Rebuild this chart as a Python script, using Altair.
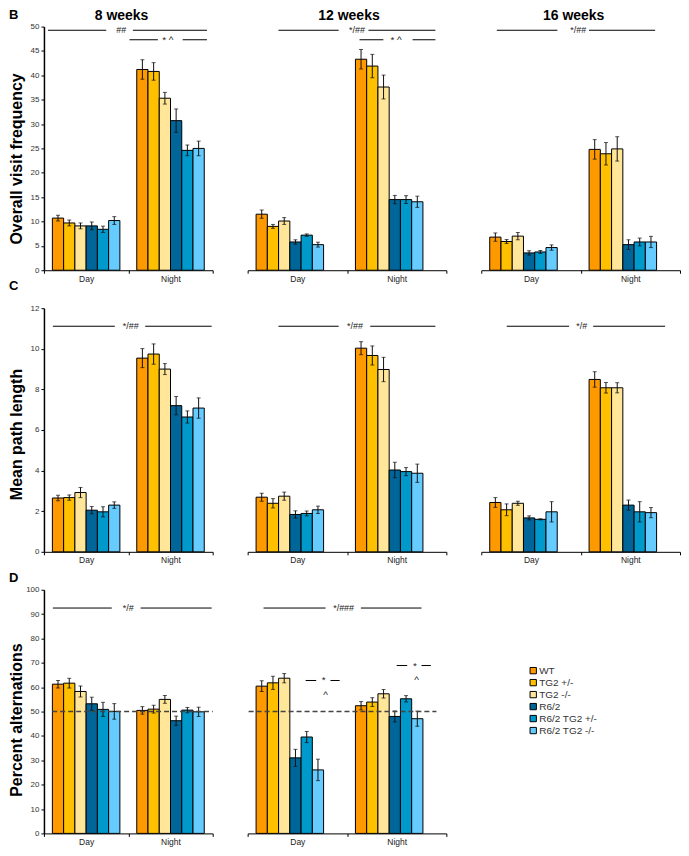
import altair as alt
import pandas as pd

groups = ["WT", "TG2 +/-", "TG2 -/-", "R6/2", "R6/2 TG2 +/-", "R6/2 TG2 -/-"]
colors = ["#FF9900", "#FFC000", "#FFE699", "#006699", "#0099CC", "#66CCFF"]
phases = ["Day", "Night"]
weeks = ["8 weeks", "12 weeks", "16 weeks"]

# Overall visit frequency (mean, SEM)
visit_8_day = [10.7, 9.7, 9.1, 9.1, 8.4, 10.2]
visit_8_day_err = [0.6, 0.6, 0.6, 0.8, 0.65, 0.8]
visit_8_night = [41.2, 40.8, 35.3, 30.7, 24.6, 25.0]
visit_8_night_err = [2.0, 1.8, 1.2, 2.4, 1.1, 1.5]
visit_12_day = [11.5, 9.0, 10.1, 5.8, 7.2, 5.25]
visit_12_day_err = [0.85, 0.4, 0.7, 0.45, 0.25, 0.5]
visit_12_night = [43.3, 41.9, 37.6, 14.5, 14.5, 14.05]
visit_12_night_err = [2.0, 2.4, 2.45, 0.85, 0.8, 1.15]
visit_16_day = [6.8, 5.9, 7.0, 3.55, 3.75, 4.65]
visit_16_day_err = [0.85, 0.4, 0.75, 0.45, 0.3, 0.55]
visit_16_night = [24.8, 23.9, 24.9, 5.25, 5.8, 5.8]
visit_16_night_err = [2.0, 2.3, 2.5, 1.0, 0.8, 1.15]

# Mean path length
path_8_day = [2.65, 2.67, 2.92, 2.05, 1.97, 2.3]
path_8_day_err = [0.13, 0.13, 0.25, 0.18, 0.25, 0.16]
path_8_night = [9.54, 9.74, 9.0, 7.2, 6.64, 7.08]
path_8_night_err = [0.47, 0.5, 0.27, 0.45, 0.3, 0.5]
path_12_day = [2.69, 2.39, 2.74, 1.84, 1.89, 2.07]
path_12_day_err = [0.2, 0.23, 0.2, 0.18, 0.12, 0.18]
path_12_night = [10.03, 9.67, 8.98, 4.03, 3.95, 3.87]
path_12_night_err = [0.32, 0.47, 0.6, 0.38, 0.2, 0.45]
path_16_day = [2.43, 2.07, 2.39, 1.67, 1.6, 1.97]
path_16_day_err = [0.24, 0.29, 0.1, 0.1, 0.03, 0.5]
path_16_night = [8.49, 8.08, 8.08, 2.3, 1.97, 1.93]
path_16_night_err = [0.38, 0.26, 0.25, 0.25, 0.5, 0.25]

# Percent alternations
alt_8_day = [61.25, 61.66, 58.25, 53.2, 50.9, 50.07]
alt_8_day_err = [1.55, 2.0, 2.25, 2.7, 2.9, 3.2]
alt_8_night = [50.48, 51.0, 55.0, 46.25, 50.6, 49.9]
alt_8_night_err = [1.55, 1.6, 1.6, 1.9, 1.1, 1.9]
alt_12_day = [60.44, 61.8, 63.7, 31.0, 39.56, 26.06]
alt_12_day_err = [2.25, 2.7, 1.9, 3.5, 2.3, 4.4]
alt_12_night = [52.4, 53.9, 57.3, 48.0, 55.25, 47.07]
alt_12_night_err = [1.7, 1.8, 1.75, 2.25, 1.3, 3.1]

FONT = "Liberation Sans"
W = [169, 199, 199]
H = 244
one = pd.DataFrame({"k": [0]})

x_axis = alt.Axis(title=None, labelAngle=0, tickBand="extent", tickSize=3,
                  tickColor="black", domainColor="black", domainWidth=1,
                  labelFontSize=8.5, labelColor="#222", labelPadding=1, labelFont=FONT)
x_enc = alt.X("phase:N", sort=phases,
              scale=alt.Scale(domain=phases, paddingInner=0, paddingOuter=0), axis=x_axis)
xo_enc = alt.XOffset("group:N", sort=groups,
                     scale=alt.Scale(domain=groups, paddingInner=0, paddingOuter=0.75))
legend = alt.Legend(orient="none", legendX=485, legendY=640, title=None,
                    symbolType="square", symbolSize=40, symbolStrokeColor="black",
                    symbolStrokeWidth=1, labelFontSize=10, labelFont=FONT,
                    labelColor="#333", rowPadding=0, labelOffset=1, padding=0)
color_enc = alt.Color("group:N", sort=groups,
                      scale=alt.Scale(domain=groups, range=colors), legend=legend)


def make_df(day, day_err, night, night_err):
    rows = []
    for ph, vals, errs in (("Day", day, day_err), ("Night", night, night_err)):
        for g, v, e in zip(groups, vals, errs):
            rows.append({"phase": ph, "group": g, "mean": v, "lo": v - e, "hi": v + e})
    return pd.DataFrame(rows)


def panel(data, ymax, ystep, width, ytitle=None, title_y=120, annots=(), title=None,
          title_x=0.5, letter=None, letter_y=-8):
    df = make_df(*data)
    yscale = alt.Scale(domain=[0, ymax], nice=False, zero=True)
    if ytitle:
        yaxis = alt.Axis(values=list(range(0, ymax + 1, ystep)), title=ytitle,
                         titleFontSize=16, titleFontWeight="bold", titleColor="black",
                         titleFont=FONT, titleAngle=270, titleX=-22, titleY=title_y,
                         titleBaseline="alphabetic", titleAlign="center",
                         labelFontSize=8, labelColor="#333", labelFont=FONT, labelPadding=2,
                         tickSize=3, tickColor="black", domainColor="black", domainWidth=1.5,
                         grid=False)
    else:
        yaxis = None
    bars = alt.Chart(df).mark_bar(stroke="black", strokeWidth=1).encode(
        x=x_enc, xOffset=xo_enc, y=alt.Y("mean:Q", scale=yscale, axis=yaxis),
        color=color_enc)
    err = alt.Chart(df).mark_rule(color="#111", strokeWidth=1).encode(
        x=x_enc, xOffset=xo_enc, y=alt.Y("lo:Q", scale=yscale, axis=yaxis), y2="hi:Q")
    cap_lo = alt.Chart(df).mark_tick(color="#111", size=4, thickness=1).encode(
        x=x_enc, xOffset=xo_enc, y=alt.Y("lo:Q", scale=yscale, axis=yaxis))
    cap_hi = alt.Chart(df).mark_tick(color="#111", size=4, thickness=1).encode(
        x=x_enc, xOffset=xo_enc, y=alt.Y("hi:Q", scale=yscale, axis=yaxis))
    layers = [bars, err, cap_lo, cap_hi]
    for a in annots:
        if a[0] == "rule":
            _, x0, x1, yv = a
            layers.append(alt.Chart(one).mark_rule(color="black", strokeWidth=1).encode(
                x=alt.value(x0 * width), x2=alt.value(x1 * width),
                y=alt.YDatum(yv, scale=yscale, axis=yaxis)))
        elif a[0] == "dash":
            _, x0, x1, yv = a
            layers.append(alt.Chart(one).mark_rule(color="#444", strokeWidth=1.5,
                                                    strokeDash=[5, 3]).encode(
                x=alt.value(x0 * width), x2=alt.value(x1 * width),
                y=alt.YDatum(yv, scale=yscale, axis=yaxis)))
        else:
            _, txt, xf, yv, size = a
            layers.append(alt.Chart(one).mark_text(text=txt, fontSize=size, font=FONT,
                                                    color="#222", align="center",
                                                    baseline="middle").encode(
                x=alt.value(xf * width), y=alt.YDatum(yv, scale=yscale, axis=yaxis)))
    if letter:
        layers.append(alt.Chart(one).mark_text(text=letter, fontSize=13, fontWeight="bold",
                                                font=FONT, color="black", align="left",
                                                baseline="alphabetic").encode(
            x=alt.value(-35), y=alt.value(letter_y)))
    if title:
        layers.append(alt.Chart(one).mark_text(text=title, fontSize=14, fontWeight="bold",
                                                font=FONT, color="black", align="center",
                                                baseline="alphabetic").encode(
            x=alt.value(title_x * width), y=alt.value(-7)))
    return alt.layer(*layers).properties(width=width, height=H)


charts = [
    panel((visit_8_day, visit_8_day_err, visit_8_night, visit_8_night_err), 50, 5, W[0],
          ytitle="Overall visit frequency", title_y=132, title=weeks[0], title_x=0.46,
          letter="B", letter_y=-8,
          annots=[("rule", 0.024, 0.369, 49.25), ("rule", 0.527, 0.966, 49.25),
                  ("text", "##", 0.458, 49.25, 9),
                  ("rule", 0.507, 0.675, 47.3), ("rule", 0.822, 0.966, 47.3),
                  ("text", "* ^", 0.734, 47.3, 10)]),
    panel((visit_12_day, visit_12_day_err, visit_12_night, visit_12_night_err), 50, 5, W[1],
          title=weeks[1], title_x=0.51,
          annots=[("rule", 0.155, 0.458, 49.25), ("rule", 0.608, 0.945, 49.25),
                  ("text", "*/##", 0.55, 49.25, 9),
                  ("rule", 0.563, 0.683, 47.3), ("rule", 0.83, 0.945, 47.3),
                  ("text", "* ^", 0.747, 47.3, 10)]),
    panel((visit_16_day, visit_16_day_err, visit_16_night, visit_16_night_err), 50, 5, W[2],
          title=weeks[2], title_x=0.465,
          annots=[("rule", 0.078, 0.383, 49.25), ("rule", 0.542, 0.875, 49.25),
                  ("text", "*/##", 0.488, 49.25, 9)]),
    panel((path_8_day, path_8_day_err, path_8_night, path_8_night_err), 12, 2, W[0],
          ytitle="Mean path length", title_y=126, letter="C", letter_y=-18,
          annots=[("rule", 0.053, 0.42, 11.11), ("rule", 0.60, 0.994, 11.11),
                  ("text", "*/##", 0.515, 11.11, 9)]),
    panel((path_12_day, path_12_day_err, path_12_night, path_12_night_err), 12, 2, W[1],
          annots=[("rule", 0.155, 0.458, 11.11), ("rule", 0.617, 0.945, 11.11),
                  ("text", "*/##", 0.54, 11.11, 9)]),
    panel((path_16_day, path_16_day_err, path_16_night, path_16_night_err), 12, 2, W[2],
          annots=[("rule", 0.128, 0.442, 11.11), ("rule", 0.563, 0.925, 11.11),
                  ("text", "*/#", 0.505, 11.11, 9)]),
    panel((alt_8_day, alt_8_day_err, alt_8_night, alt_8_night_err), 100, 10, W[0],
          ytitle="Percent alternations", title_y=130, letter="D", letter_y=-8,
          annots=[("dash", 0.049, 1.0, 50),
                  ("rule", 0.053, 0.402, 92.5), ("rule", 0.573, 0.994, 92.5),
                  ("text", "*/#", 0.5, 92.5, 9)]),
    panel((alt_12_day, alt_12_day_err, alt_12_night, alt_12_night_err), 100, 10, W[1],
          annots=[("dash", 0.005, 0.95, 50),
                  ("rule", 0.08, 0.392, 92.5), ("rule", 0.57, 0.875, 92.5),
                  ("text", "*/###", 0.483, 92.5, 9),
                  ("rule", 0.292, 0.345, 62.76), ("rule", 0.417, 0.463, 62.76),
                  ("text", "*", 0.383, 62.76, 10), ("text", "^", 0.392, 57.0, 10),
                  ("rule", 0.75, 0.803, 68.9), ("rule", 0.875, 0.922, 68.9),
                  ("text", "*", 0.842, 68.9, 10), ("text", "^", 0.85, 63.0, 10)]),
]

chart = alt.concat(*charts, columns=3, spacing={"row": 38, "column": 35},
                   bounds="flush").properties(padding=0).configure_view(
    stroke=None).configure_axis(grid=False, labelFont=FONT, titleFont=FONT).configure_text(
    font=FONT).configure_title(font=FONT).configure_legend(labelFont=FONT)

chart.save("out.html", embed_options={"renderer": "svg", "actions": False})
